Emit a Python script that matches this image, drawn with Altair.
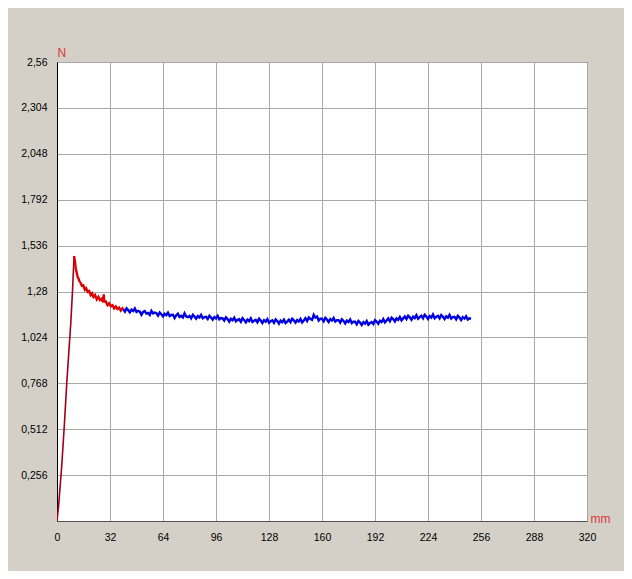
import altair as alt
import pandas as pd

# Tick values
x_ticks = [0, 32, 64, 96, 128, 160, 192, 224, 256, 288, 320]
y_ticks = [0, 0.256, 0.512, 0.768, 1.024, 1.28, 1.536, 1.792, 2.048, 2.304, 2.56]

# Rising part (mm, N)
rise_x = [0, 1.0, 2.8, 4.4, 5.9, 7.2, 8.3, 9.4, 10.3]
rise_y = [0, 0.09, 0.30, 0.53, 0.77, 0.95, 1.10, 1.29, 1.478]

# Decaying part after the peak (red)
decay_x = [10.3, 10.8, 11.3, 11.9, 12.5, 13.0, 13.6, 14.2, 15.0, 15.9, 16.8, 17.6,
           18.5, 19.4, 20.3, 21.2, 22.0, 23.0, 24.0, 25.0, 26.0, 27.0, 27.8, 28.2,
           28.6, 29.5, 30.5, 31.5, 32.5, 33.5, 34.5, 35.5, 36.5, 37.5, 38.5, 39.5, 40.0]
decay_y = [1.478, 1.45, 1.41, 1.385, 1.360, 1.352, 1.336, 1.330, 1.312, 1.314, 1.290, 1.298,
           1.278, 1.283, 1.260, 1.270, 1.250, 1.260, 1.236, 1.250, 1.232, 1.240, 1.220, 1.264,
           1.224, 1.224, 1.204, 1.214, 1.198, 1.204, 1.186, 1.196, 1.182, 1.190, 1.174, 1.186, 1.178]

# Plateau (blue), one reading per mm from 40 to 250
blue_x = list(range(40, 251))
blue_y = [
    1.182, 1.168, 1.186, 1.176, 1.164, 1.179, 1.171, 1.185, 1.166, 1.172,
    1.168, 1.150, 1.166, 1.171, 1.157, 1.160, 1.149, 1.172, 1.158, 1.163,
    1.159, 1.145, 1.163, 1.153, 1.141, 1.156, 1.148, 1.162, 1.143, 1.149,
    1.150, 1.132, 1.147, 1.156, 1.138, 1.144, 1.135, 1.158, 1.140, 1.137,
    1.144, 1.130, 1.150, 1.140, 1.128, 1.143, 1.135, 1.149, 1.131, 1.137,
    1.139, 1.127, 1.145, 1.135, 1.123, 1.138, 1.130, 1.144, 1.125, 1.132,
    1.130, 1.118, 1.136, 1.126, 1.112, 1.128, 1.120, 1.134, 1.114, 1.122,
    1.125, 1.111, 1.131, 1.121, 1.108, 1.123, 1.115, 1.130, 1.110, 1.117,
    1.122, 1.108, 1.128, 1.118, 1.104, 1.120, 1.112, 1.126, 1.106, 1.114,
    1.119, 1.105, 1.124, 1.115, 1.101, 1.117, 1.109, 1.123, 1.104, 1.112,
    1.123, 1.109, 1.128, 1.119, 1.106, 1.121, 1.113, 1.127, 1.108, 1.118,
    1.131, 1.116, 1.135, 1.127, 1.122, 1.150, 1.134, 1.140, 1.118, 1.128,
    1.128, 1.114, 1.133, 1.124, 1.110, 1.126, 1.118, 1.132, 1.112, 1.120,
    1.120, 1.106, 1.125, 1.116, 1.102, 1.118, 1.110, 1.124, 1.104, 1.111,
    1.111, 1.097, 1.116, 1.107, 1.093, 1.109, 1.101, 1.115, 1.095, 1.104,
    1.110, 1.099, 1.120, 1.112, 1.100, 1.117, 1.110, 1.126, 1.108, 1.118,
    1.130, 1.114, 1.134, 1.126, 1.113, 1.130, 1.122, 1.138, 1.119, 1.130,
    1.141, 1.126, 1.145, 1.136, 1.123, 1.140, 1.132, 1.148, 1.128, 1.137,
    1.145, 1.131, 1.150, 1.141, 1.127, 1.143, 1.135, 1.152, 1.131, 1.139,
    1.144, 1.130, 1.149, 1.139, 1.126, 1.142, 1.134, 1.150, 1.129, 1.137,
    1.139, 1.125, 1.144, 1.135, 1.121, 1.137, 1.129, 1.142, 1.124, 1.130,
    1.128,
]

FONT = "Liberation Sans"

x_enc = alt.X(
    "x:Q",
    scale=alt.Scale(domain=[0, 320], nice=False, zero=False),
    axis=alt.Axis(
        values=x_ticks, format="d", grid=True, ticks=False,
        gridColor="#a8a8a8", gridWidth=1, domainColor="#505050",
        labelPadding=11, labelFont=FONT, labelFontSize=10.5, labelColor="#000000",
        labelFlush=False,
        title="mm", titleColor="#d83838", titleFont=FONT, titleFontSize=12,
        titleFontWeight="normal", titleAngle=0, titleAlign="left",
        titleBaseline="middle", titleX=533, titleY=-3,
    ),
)
y_enc = alt.Y(
    "y:Q",
    scale=alt.Scale(domain=[0, 2.56], nice=False, zero=False),
    axis=alt.Axis(
        values=y_ticks, grid=True, ticks=False,
        gridColor="#a8a8a8", gridWidth=1, domainColor="#000000",
        labelExpr="datum.value == 0 ? '' : replace(format(datum.value, '.4~f'), '.', ',')",
        labelPadding=10, labelFont=FONT, labelFontSize=10.5, labelColor="#000000",
        labelFlush=False,
        title="N", titleColor="#d83838", titleFont=FONT, titleFontSize=12,
        titleFontWeight="normal", titleAngle=0, titleAlign="left",
        titleBaseline="middle", titleX=0, titleY=-10,
    ),
)

rise_df = pd.DataFrame({"x": rise_x, "y": rise_y})
decay_df = pd.DataFrame({"x": decay_x, "y": decay_y})
blue_df = pd.DataFrame({"x": blue_x, "y": blue_y})

rise = alt.Chart(rise_df).mark_line(color="#a00018", strokeWidth=1.6, clip=True).encode(x=x_enc, y=y_enc)
decay = alt.Chart(decay_df).mark_line(color="#e00000", strokeWidth=2.4, clip=True).encode(x="x:Q", y="y:Q")
blue = alt.Chart(blue_df).mark_line(color="#0000e0", strokeWidth=2.4, clip=True).encode(x="x:Q", y="y:Q")

chart = (
    alt.layer(rise, decay, blue)
    .properties(
        width=530, height=459,
        autosize="none",
        padding={"left": 49, "top": 54, "right": 37, "bottom": 50},
        background="#d4d0c8",
    )
    .configure_view(fill="#ffffff", stroke="#505050", strokeWidth=1)
)

chart.save("out.html", embed_options={"renderer": "svg", "actions": False})
